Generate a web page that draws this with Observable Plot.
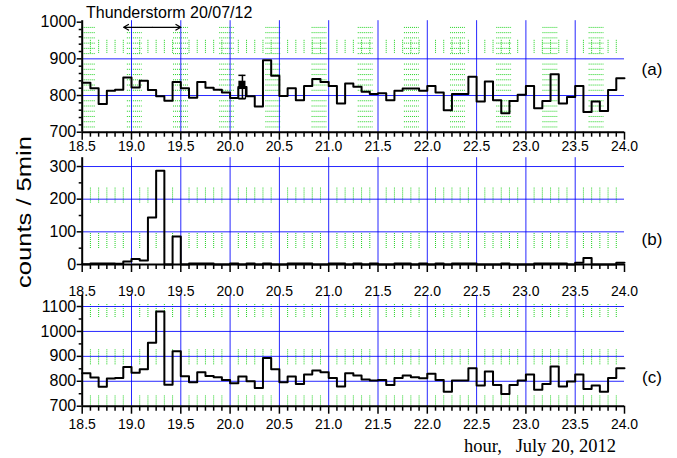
<!DOCTYPE html>
<html>
<head>
<meta charset="utf-8">
<script src="https://cdn.jsdelivr.net/npm/d3@7"></script>
<script src="https://cdn.jsdelivr.net/npm/@observablehq/plot@0.6"></script>
<style>
  html, body { margin: 0; padding: 0; background: #fff; }
  #wrap { position: relative; width: 677px; height: 458px; overflow: hidden; background: #fff;
          font-family: "Liberation Sans", Arial, sans-serif; }
  #overlay { position: absolute; left: 0; top: 0; pointer-events: none; }
</style>
</head>
<body>
<div id="wrap"></div>
<script>
// ---------------- data (5-minute bins, 18:30 .. 24:00) ----------------
const hourStart = 18.5;
const hourEnd = 24.0;

// (a) counts / 5min
const panelA = [835, 820, 777, 813, 816, 849, 822, 840, 815, 798, 786, 837, 820, 794, 837, 821, 816, 808, 793, 823,
                798, 770, 896, 854, 799, 820, 787, 826, 845, 837, 826, 778, 833, 824, 810, 804, 806, 787, 813, 819,
                819, 813, 826, 808, 760, 804, 804, 851, 784, 838, 787, 752, 785, 802, 826, 765, 785, 858, 778, 796,
                826, 755, 784, 758, 815, 847];
// (b) counts / 5min
const panelB = [1, 3, 3, 3, 2, 9, 17, 12, 144, 287, 0, 86, 0, 3, 3, 3, 0, 0, 3, 0,
                3, 0, 3, 0, 0, 3, 3, 3, 0, 0, 3, 3, 0, 3, 0, 3, 0, 0, 3, 3,
                0, 3, 0, 3, 0, 3, 3, 3, 0, 0, 0, 3, 0, 0, 0, 3, 3, 3, 3, 0,
                5, 20, 0, 0, 0, 5];
// (c) counts / 5min
const panelC = [832, 815, 778, 811, 813, 857, 834, 848, 955, 1080, 786, 920, 820, 796, 836, 821, 816, 805, 792, 819,
                800, 773, 893, 848, 796, 819, 789, 827, 843, 836, 813, 779, 832, 823, 807, 803, 805, 785, 813, 823,
                816, 812, 830, 805, 758, 803, 803, 852, 783, 839, 785, 749, 785, 803, 827, 766, 789, 859, 779, 799,
                827, 769, 783, 758, 813, 852];

// x tick values / labels
const xTickValues = [18.5, 19.0, 19.5, 20.0, 20.5, 21.0, 21.5, 22.0, 22.5, 23.0, 23.5, 24.0];
const xTickLabels = ["18.5", "19.0", "19.5", "20.0", "20.5", "21.0", "21.5", "22.0", "22.5", "23.0", "23.5", "24.0"];

// y ticks
const yTicksA = [700, 800, 900, 1000];
const yTicksB = [0, 100, 200, 300];
const yTicksC = [700, 800, 900, 1000, 1100];

// annotations
const stormLabel = "Thunderstorm 20/07/12";
const stormSpan = [18.92, 19.5];
const stormArrowLevel = [986];
const errorBarHour = [20.125];
const errorBarLow = [791];
const errorBarBox = [818, 839];
const errorBarHigh = [855];
const panelLabels = ["(a)", "(b)", "(c)"];
const yTitle = "counts / 5min";
const xTitle = "hour,   July 20, 2012";

// ---------------- drawing ----------------
const W = 677, X0 = 81.7, X1 = 624;
const BLUE = "#0000ff";
const GREEN = "#1fd21f";
const wrap = document.getElementById("wrap");

const bins = d3.range(panelA.length).map(k => hourStart + k / 12);
function stepRows(vals) {
  const r = vals.map((v, k) => ({h: bins[k], v}));
  r.push({h: hourEnd, v: vals[vals.length - 1]});
  return r;
}
const innerMajor = xTickValues.slice(1, -1);
const minorX = d3.range(1, panelA.length).filter(k => k % 6 !== 0).map(k => hourStart + k / 12);
const fmtX = d => xTickLabels[xTickValues.findIndex(v => Math.abs(v - d) < 1e-6)] ?? "";

function greenVertical(bands) {
  const rows = [];
  for (const [lo, hi] of bands) for (const x of minorX) rows.push({x, lo, hi});
  return Plot.ruleX(rows, {x: "x", y1: "lo", y2: "hi", stroke: GREEN, strokeWidth: 1, strokeDasharray: "1 1"});
}

function panel(o) {
  const marks = [
    ...o.green,
    Plot.ruleX(innerMajor, {stroke: BLUE, strokeWidth: 1, strokeOpacity: 0.85}),
    Plot.ruleY(o.yGrid, {stroke: BLUE, strokeWidth: 1, strokeOpacity: 0.85}),
    Plot.line(stepRows(o.vals), {x: "h", y: "v", curve: "step-after", stroke: "black", strokeWidth: 2}),
    ...(o.extra || []),
    Plot.ruleX([hourStart], {stroke: "black", strokeWidth: 2}),
    Plot.ruleY([o.yDomain[0]], {stroke: "black", strokeWidth: 2}),
    Plot.axisX({ticks: xTickValues, tickSize: 8, tickPadding: o.tickPad, tickFormat: fmtX,
                fontSize: 14, strokeWidth: 1.5, label: null}),
    Plot.axisX({ticks: minorX, tickSize: 5, tickFormat: () => "", strokeWidth: 1.5, label: null}),
    Plot.axisY({ticks: o.yTicks, tickSize: 5, tickPadding: 1, tickFormat: d => String(d),
                fontSize: 16, strokeWidth: 1.5, label: null}),
    Plot.axisY({ticks: o.yMinor, tickSize: 3, tickFormat: () => "", strokeWidth: 1.5, label: null})
  ];
  const svg = Plot.plot({
    width: W, height: o.height,
    marginLeft: X0, marginRight: W - X1, marginTop: o.mTop, marginBottom: o.mBottom,
    x: {domain: [hourStart, hourEnd], label: null},
    y: {domain: o.yDomain, label: null},
    style: {background: "transparent", overflow: "visible", fontFamily: "'Liberation Sans', Arial, sans-serif", color: "black"},
    marks
  });
  svg.style.position = "absolute";
  svg.style.left = "0px";
  svg.style.top = o.top + "px";
  wrap.append(svg);
}

// panel (a) decorations: horizontal dotted rows in moire windows
const rowsA = d3.range(1, 21).map(j => 700 + j * 100 / 7).filter(v => Math.abs(v - 800) > 3 && Math.abs(v - 900) > 3);
const winA = d3.range(12).map(i => 18.49 + i * 0.4683);
const hDashA = [];
for (const s of winA) for (const y of rowsA) hDashA.push({y, x1: Math.max(hourStart, s), x2: Math.min(hourEnd, s + 0.15)});

const ebar = errorBarHour.map((h, i) => ({h, lo: errorBarLow[i], q1: errorBarBox[0], q3: errorBarBox[1], hi: errorBarHigh[i]}));
const hw = 0.036;
const stormMid = (stormSpan[0] + stormSpan[1]) / 2;

panel({
  vals: panelA, top: 0, height: 160, mTop: 20.2, mBottom: 28.3, yDomain: [700, 1004],
  yTicks: yTicksA, yMinor: d3.range(720, 1000, 20).filter(v => v % 100), yGrid: [800, 900], tickPad: 0.5,
  green: [
    greenVertical([[915, 952]]),
    Plot.ruleY(hDashA, {y: "y", x1: "x1", x2: "x2", stroke: GREEN, strokeWidth: 1, strokeDasharray: "1 1"})
  ],
  extra: [
    Plot.ruleX(ebar, {x: "h", y1: "lo", y2: "hi", stroke: "black", strokeWidth: 1.5}),
    Plot.ruleY(ebar, {y: "hi", x1: d => d.h - hw, x2: d => d.h + hw, stroke: "black", strokeWidth: 1.5}),
    Plot.ruleY(ebar, {y: "lo", x1: d => d.h - hw, x2: d => d.h + hw, stroke: "black", strokeWidth: 1.5}),
    Plot.rect(ebar, {x1: d => d.h - hw, x2: d => d.h + hw, y1: "q1", y2: "q3", fill: "black"}),
    Plot.rect(ebar, {x1: d => d.h - hw, x2: d => d.h + hw, y1: "lo", y2: "q1", fill: "none", stroke: "black", strokeWidth: 1.2}),
    Plot.arrow([{a: stormMid, b: stormSpan[0]}, {a: stormMid, b: stormSpan[1]}],
               {x1: "a", x2: "b", y1: () => stormArrowLevel[0], y2: () => stormArrowLevel[0],
                stroke: "black", strokeWidth: 1.2, headLength: 7})
  ]
});

panel({
  vals: panelB, top: 150, height: 140, mTop: 7.2, mBottom: 26, yDomain: [0, 327],
  yTicks: yTicksB, yMinor: [50, 150, 250], yGrid: [100, 200, 300], tickPad: 13.5,
  green: [greenVertical([[188, 236], [49, 97]])]
});

panel({
  vals: panelC, top: 290, height: 168, mTop: 4.8, mBottom: 52.3, yDomain: [700, 1145],
  yTicks: yTicksC, yMinor: [750, 850, 950, 1050], yGrid: [800, 900, 1000, 1100], tickPad: 4.7,
  green: [greenVertical([[1056, 1108], [866, 927], [705, 741]])]
});

// text overlay
const NS = "http://www.w3.org/2000/svg";
const ov = document.createElementNS(NS, "svg");
ov.setAttribute("id", "overlay");
ov.setAttribute("width", W);
ov.setAttribute("height", 458);
function txt(s, attrs) {
  const t = document.createElementNS(NS, "text");
  for (const k in attrs) t.setAttribute(k, attrs[k]);
  t.textContent = s;
  ov.appendChild(t);
  return t;
}
const sans = "'Liberation Sans', Arial, sans-serif";
txt(stormLabel, {x: 86, y: 17.5, "font-size": 16, "font-family": sans, fill: "black"});
txt(yTitle, {transform: "translate(31,212) rotate(-90)", "text-anchor": "middle", "font-size": 21,
             "font-family": sans, textLength: 152, lengthAdjust: "spacingAndGlyphs", fill: "black"});
[[75.4], [245.4], [383.4]].forEach(([y], i) =>
  txt(panelLabels[i], {x: 652, y, "text-anchor": "middle", "font-size": 17, "font-family": sans, fill: "black"}));
const cap = txt(xTitle, {x: 464, y: 451.5, "font-size": 18.5, "font-family": "'Liberation Serif', 'Times New Roman', serif", fill: "black"});
cap.setAttribute("style", "white-space: pre");
cap.setAttributeNS("http://www.w3.org/XML/1998/namespace", "xml:space", "preserve");
wrap.appendChild(ov);
</script>
</body>
</html>
